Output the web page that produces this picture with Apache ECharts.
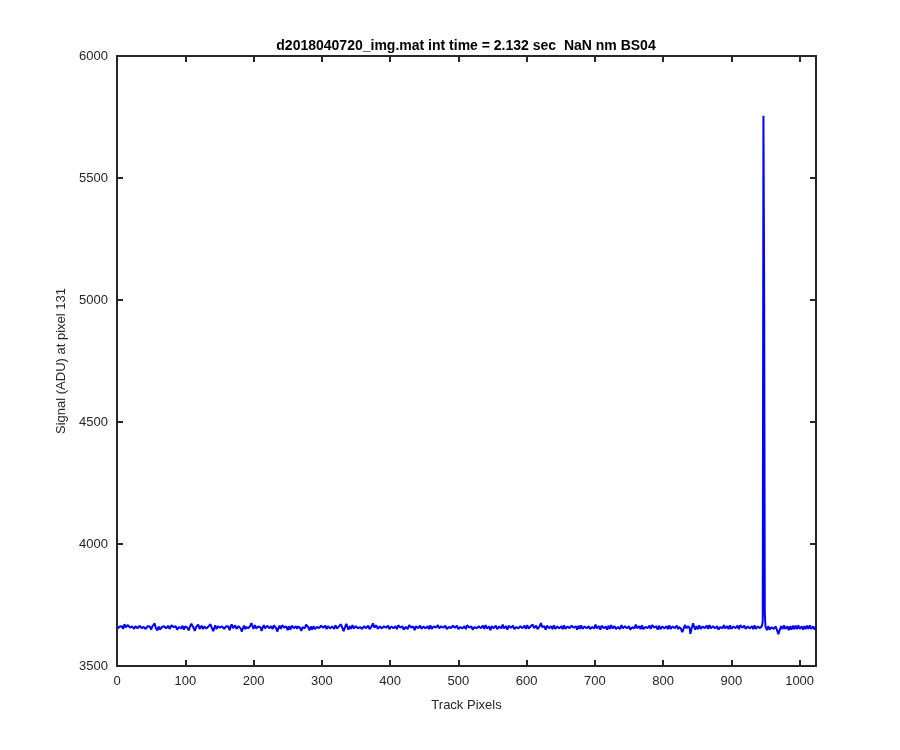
<!DOCTYPE html>
<html>
<head>
<meta charset="utf-8">
<script src="https://cdn.jsdelivr.net/npm/echarts@6/dist/echarts.min.js"></script>
<style>html,body{margin:0;padding:0;background:#fff}#c{width:900px;height:750px}</style>
</head>
<body>
<div id="c"></div>
<script>
const titleText = 'd2018040720_img.mat int time = 2.132 sec  NaN nm BS04';
const xLabel = 'Track Pixels';
const yLabel = 'Signal (ADU) at pixel 131';
const xTicks = [0, 100, 200, 300, 400, 500, 600, 700, 800, 900, 1000];
const yTicks = [3500, 4000, 4500, 5000, 5500, 6000];
const xStart = 1; // first track pixel
const signal = [
3654,3659,3649,3662,3657,3667,3663,3655, 3652,3660,3671,3665,3659,3654,3662,3668, 3675,3663,3657,3651,3655,3662,3665,3659, 3652,3657,3663,3670,3660,3654,3649,3659,
3665,3673,3662,3655,3647,3654,3660,3667, 3657,3652,3646,3655,3663,3659,3667,3662, 3654,3649,3657,3663,3660,3668,3675,3665, 3655,3651,3646,3654,3662,3657,3649,3644,
3652,3660,3667,3659,3663,3671,3662,3654, 3647,3655,3665,3660,3652,3646,3657,3667, 3675,3668,3659,3651,3655,3663,3657,3649, 3643,3651,3660,3668,3662,3654,3659,3665,
3657,3649,3655,3662,3670,3663,3657,3651, 3646,3654,3662,3667,3673,3678,3667,3657, 3649,3644,3652,3660,3655,3663,3670,3662, 3652,3647,3657,3665,3659,3651,3655,3662,
3668,3660,3654,3647,3655,3662,3657,3665, 3671,3663,3655,3649,3643,3652,3660,3667, 3659,3651,3657,3663,3671,3665,3657,3649, 3654,3662,3668,3660,3652,3646,3654,3663,
3659,3667,3662,3654,3647,3657,3665,3671, 3663,3655,3649,3659,3667,3660,3652,3646, 3655,3663,3670,3662,3654,3647,3641,3651, 3659,3665,3657,3651,3660,3668,3662,3655,
3649,3657,3663,3670,3676,3667,3659,3652, 3660,3668,3662,3654,3647,3655,3662,3657, 3665,3659,3651,3644,3654,3662,3668,3660, 3654,3649,3657,3665,3671,3663,3655,3649,
3655,3663,3657,3651,3659,3667,3673,3663, 3655,3647,3641,3651,3659,3665,3659,3652, 3660,3667,3675,3665,3657,3651,3655,3662, 3654,3647,3655,3663,3657,3649,3657,3665,
3671,3663,3655,3649,3657,3663,3659,3652, 3662,3670,3663,3657,3651,3644,3652,3660, 3667,3660,3654,3662,3670,3676,3668,3659, 3651,3646,3654,3662,3655,3649,3657,3663,
3657,3651,3643,3652,3660,3667,3662,3655, 3649,3657,3665,3673,3665,3657,3651,3659, 3665,3657,3651,3655,3663,3670,3662,3654, 3647,3655,3662,3668,3660,3652,3659,3667,
3660,3654,3646,3654,3662,3655,3663,3671, 3665,3657,3649,3643,3651,3659,3667,3673, 3663,3655,3649,3657,3663,3659,3652,3660, 3668,3662,3654,3647,3655,3663,3670,3662,
3654,3646,3654,3660,3667,3659,3652,3646, 3655,3663,3670,3663,3655,3649,3657,3665, 3659,3651,3644,3652,3662,3668,3675,3667, 3657,3651,3659,3667,3660,3652,3646,3654,
3662,3668,3660,3654,3647,3655,3663,3671, 3665,3657,3651,3659,3665,3659,3651,3644, 3654,3662,3670,3663,3655,3649,3657,3663, 3657,3651,3659,3667,3673,3665,3657,3649,
3655,3663,3657,3649,3643,3652,3660,3667, 3659,3652,3660,3668,3675,3667,3657,3649, 3655,3662,3655,3647,3655,3663,3671,3663, 3655,3649,3657,3665,3659,3652,3644,3654,
3662,3668,3662,3654,3647,3655,3663,3657, 3651,3659,3667,3660,3652,3646,3654,3662, 3670,3663,3657,3651,3659,3667,3660,3654, 3647,3655,3663,3671,3665,3657,3651,3657,
3665,3659,3651,3644,3652,3660,3668,3662, 3655,3649,3657,3665,3673,3665,3657,3651, 3659,3665,3657,3651,3643,3652,3660,3668, 3662,3654,3647,3655,3663,3657,3651,3659,
3667,3675,3665,3657,3649,3655,3663,3657, 3649,3643,3652,3660,3668,3662,3654,3647, 3655,3663,3670,3662,3655,3649,3657,3665, 3659,3652,3660,3668,3662,3654,3646,3654,
3662,3655,3647,3655,3663,3671,3663,3655, 3649,3657,3665,3659,3651,3644,3654,3662, 3668,3660,3654,3662,3670,3662,3654,3647, 3655,3663,3657,3649,3657,3665,3673,3665,
3657,3651,3659,3665,3659,3651,3643,3652, 3660,3668,3662,3654,3647,3655,3663,3670, 3663,3655,3649,3657,3665,3659,3652,3660, 3668,3660,3654,3646,3654,3662,3655,3663,
3670,3663,3655,3649,3657,3665,3659,3651, 3644,3652,3662,3668,3676,3668,3659,3651, 3657,3663,3655,3649,3657,3665,3671,3663, 3655,3647,3655,3663,3657,3651,3659,3667,
3660,3652,3646,3654,3662,3670,3662,3654, 3647,3655,3663,3657,3651,3659,3667,3660, 3652,3644,3654,3662,3668,3662,3655,3649, 3657,3665,3673,3665,3657,3649,3657,3663,
3655,3649,3657,3665,3659,3652,3660,3667, 3660,3652,3646,3654,3662,3670,3663,3655, 3649,3657,3663,3657,3651,3643,3652,3660, 3667,3660,3654,3662,3670,3662,3654,3647,
3655,3663,3657,3649,3657,3665,3673,3665, 3655,3647,3654,3662,3655,3649,3657,3665, 3659,3652,3660,3668,3662,3654,3647,3655, 3663,3657,3651,3644,3652,3660,3667,3659,
3652,3660,3668,3662,3654,3647,3655,3663, 3671,3663,3655,3649,3657,3663,3657,3649, 3643,3651,3659,3667,3660,3654,3662,3670, 3662,3655,3647,3655,3663,3657,3651,3659,
3667,3659,3651,3644,3652,3660,3668,3662, 3655,3649,3657,3665,3659,3652,3660,3668, 3675,3667,3657,3649,3655,3663,3657,3649, 3657,3665,3659,3651,3644,3654,3662,3670,
3662,3654,3647,3655,3663,3657,3651,3659, 3667,3660,3652,3646,3654,3662,3670,3663, 3655,3649,3657,3665,3659,3651,3660,3668, 3660,3654,3647,3639,3646,3652,3660,3668,
3662,3655,3647,3655,3663,3671,3654,3632, 3639,3657,3665,3675,3665,3657,3649,3657, 3663,3657,3651,3659,3667,3660,3652,3646, 3654,3662,3668,3662,3655,3649,3657,3665,
3659,3652,3660,3668,3662,3654,3647,3655, 3663,3671,3663,3655,3649,3657,3663,3657, 3649,3643,3652,3660,3667,3660,3654,3662, 3668,3660,3654,3647,3655,3663,3657,3651,
3659,3667,3660,3652,3646,3654,3662,3670, 3663,3655,3649,3657,3665,3659,3651,3659, 3667,3673,3665,3657,3651,3659,3665,3659, 3652,3644,3654,3662,3668,3662,3654,3647,
3655,3663,3657,3651,3659,3667,3660,3652, 3646,3654,3662,3670,3663,3655,3649,3657, 3665,3685,5755,5095,3715,3662,3654,3647, 3655,3663,3657,3649,3641,3651,3659,3667,
3660,3652,3646,3654,3662,3655,3646,3638, 3630,3640,3649,3657,3663,3657,3651,3659, 3667,3660,3652,3646,3654,3662,3655,3647, 3655,3663,3657,3649,3657,3665,3659,3651,
3659,3665,3657,3651,3659,3667,3660,3652, 3646,3654,3662,3655,3649,3657,3663,3657, 3651,3659,3665,3659,3652,3660,3667,3659, 3652,3646,3654,3662,3655,3649,3657,3660
];

const AX = '#262626';
const FONT = '"Liberation Sans", Arial, sans-serif';
const chart = echarts.init(document.getElementById('c'), null, {renderer: 'canvas'});
const xMin = xTicks[0], xMax = 1024, yMin = yTicks[0], yMax = yTicks[yTicks.length - 1];
const xStep = xTicks[1] - xTicks[0], yStep = yTicks[1] - yTicks[0];
const axisCommon = {
  axisLine: {show: true, onZero: false, lineStyle: {color: AX, width: 2}},
  axisTick: {show: true, inside: true, length: 6, lineStyle: {color: AX, width: 2}},
  splitLine: {show: false}
};
chart.setOption({
  animation: false,
  backgroundColor: '#ffffff',
  title: {
    text: titleText, left: 461, top: 34, textAlign: 'center',
    textStyle: {fontFamily: FONT, fontSize: 14, fontWeight: 'bold', color: '#000'}
  },
  grid: {left: 117, right: 84, top: 56, bottom: 84, containLabel: false},
  xAxis: [
    Object.assign({
      type: 'value', min: xMin, max: xMax, interval: xStep, position: 'bottom',
      name: xLabel, nameLocation: 'middle', nameGap: 33,
      nameTextStyle: {fontFamily: FONT, fontSize: 13, color: AX},
      axisLabel: {fontFamily: FONT, fontSize: 13, color: AX, margin: 9,
        formatter: v => xTicks.includes(v) ? String(v) : ''}
    }, axisCommon),
    Object.assign({
      type: 'value', min: xMin, max: xMax, interval: xStep, position: 'top',
      axisLabel: {show: false}
    }, axisCommon)
  ],
  yAxis: [
    Object.assign({
      type: 'value', min: yMin, max: yMax, interval: yStep, position: 'left',
      name: yLabel, nameLocation: 'middle', nameGap: 42,
      nameTextStyle: {fontFamily: FONT, fontSize: 13, color: AX},
      axisLabel: {fontFamily: FONT, fontSize: 13, color: AX, margin: 9,
        formatter: v => String(v)}
    }, axisCommon),
    Object.assign({
      type: 'value', min: yMin, max: yMax, interval: yStep, position: 'right',
      axisLabel: {show: false}
    }, axisCommon)
  ],
  series: [{
    type: 'line',
    data: signal.map((v, i) => [xStart + i, v]),
    showSymbol: false,
    symbol: 'none',
    lineStyle: {color: '#0000ff', width: 2},
    xAxisIndex: 0, yAxisIndex: 0
  }]
});
</script>
</body>
</html>
